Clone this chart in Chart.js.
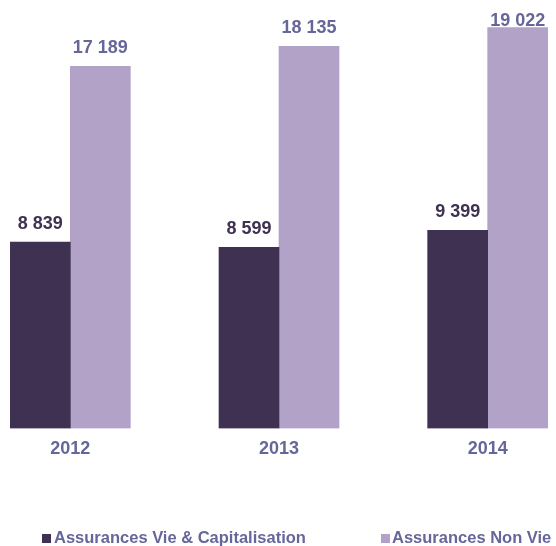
<!DOCTYPE html>
<html>
<head>
<meta charset="utf-8">
<script src="https://cdn.jsdelivr.net/npm/chart.js@4"></script>
<style>
  body { margin: 0; background: #fff; overflow: hidden; }
  #wrap { position: relative; width: 556px; height: 546px; overflow: hidden; font-family: "Liberation Sans", Arial, sans-serif; }
  #c { position: absolute; left: -34px; top: 0; }
  .leg { position: absolute; top: 529px; font-size: 16.5px; line-height: 16.5px; font-weight: bold; color: #66669a; white-space: nowrap; }
  .sq { position: absolute; top: 534px; width: 9px; height: 9px; }
</style>
</head>
<body>
<div id="wrap">
  <canvas id="c" width="626" height="546"></canvas>
  <div class="sq" style="left:42px;background:#3f3151"></div>
  <div class="leg" id="leg1" style="left:54px"></div>
  <div class="sq" style="left:381px;background:#b3a2c8"></div>
  <div class="leg" id="leg2" style="left:392px"></div>
</div>
<script>
  const years = ["2012", "2013", "2014"];
  const seriesNames = ["Assurances Vie & Capitalisation", "Assurances Non Vie"];
  const vieCapitalisation = [8839, 8599, 9399];
  const nonVie = [17189, 18135, 19022];

  const barColors = ["#3f3151", "#b3a2c8"];
  const labelColors = ["#3f3151", "#66669a"];

  document.getElementById("leg1").textContent = seriesNames[0];
  document.getElementById("leg2").textContent = seriesNames[1];

  // "17189" -> "17 189"
  function fmt(v) {
    return String(v).replace(/\B(?=(\d{3})+(?!\d))/g, " ");
  }

  const valueLabels = {
    id: "valueLabels",
    afterDatasetsDraw(chart) {
      const ctx = chart.ctx;
      const minY = chart.chartArea.top + 19; // keep labels inside the plot
      ctx.save();
      ctx.font = "bold 18px 'Liberation Sans', Arial, sans-serif";
      ctx.textAlign = "center";
      ctx.textBaseline = "alphabetic";
      chart.data.datasets.forEach((ds, i) => {
        const meta = chart.getDatasetMeta(i);
        ctx.fillStyle = labelColors[i];
        meta.data.forEach((bar, j) => {
          ctx.fillText(fmt(ds.data[j]), bar.x, Math.max(bar.y - 13, minY));
        });
      });
      ctx.restore();
    },
  };

  new Chart(document.getElementById("c").getContext("2d"), {
    type: "bar",
    data: {
      labels: years,
      datasets: [
        { label: seriesNames[0], data: vieCapitalisation, backgroundColor: barColors[0] },
        { label: seriesNames[1], data: nonVie, backgroundColor: barColors[1] },
      ],
    },
    options: {
      responsive: false,
      animation: false,
      events: [],
      layout: { padding: { top: 7, bottom: 76, left: 0, right: 0 } },
      datasets: { bar: { barThickness: 60 } },
      plugins: { legend: { display: false }, tooltip: { enabled: false } },
      scales: {
        x: {
          grid: { display: false, drawTicks: false },
          border: { display: false },
          ticks: {
            padding: 10,
            color: "#66669a",
            font: { family: "'Liberation Sans', Arial, sans-serif", size: 18, weight: "bold" },
          },
        },
        y: { display: false, min: 0, max: 20000 },
      },
    },
    plugins: [valueLabels],
  });
</script>
</body>
</html>
